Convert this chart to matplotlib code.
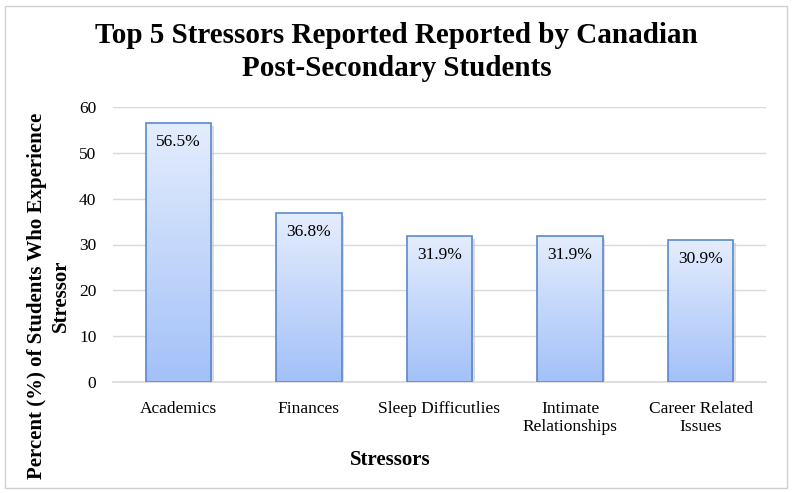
import numpy as np
import matplotlib
matplotlib.use('Agg')
import matplotlib.pyplot as plt
from matplotlib.patches import Rectangle
from matplotlib.colors import LinearSegmentedColormap

categories = ['Academics', 'Finances', 'Sleep Difficutlies',
              'Intimate\nRelationships', 'Career Related\nIssues']
values = [56.5, 36.8, 31.9, 31.9, 30.9]
labels = ['56.5%', '36.8%', '31.9%', '31.9%', '30.9%']
yticks = [0, 10, 20, 30, 40, 50, 60]

plt.rcParams['font.family'] = ['Liberation Serif', 'DejaVu Serif']

fig = plt.figure(figsize=(7.93, 4.93), dpi=100)
ax = fig.add_axes([113 / 793, 1 - 382 / 493, 653 / 793, 275 / 493])

grad = LinearSegmentedColormap.from_list('g', ['#a3c1f8', '#e4edfd'])
x = np.arange(len(values))
bars = ax.bar(x, values, width=0.5, facecolor='none', edgecolor='#5a89cc',
              linewidth=1.2, zorder=3)
for b, v, lab in zip(bars, values, labels):
    x0 = b.get_x()
    w = b.get_width()
    im = ax.imshow(np.linspace(0, 1, 100).reshape(-1, 1), cmap=grad,
                   origin='lower', aspect='auto',
                   extent=[x0, x0 + w, 0, v], zorder=2)
    im.set_clip_path(b)
    # soft shadow
    ax.add_patch(Rectangle((x0 + 0.02, -0.6), w, v, facecolor='#bbbbbb',
                           edgecolor='none', alpha=0.5, zorder=1))
    ax.text(b.get_x() + w / 2, v - 2.4, lab, ha='center', va='top',
            fontsize=12.5, zorder=4)

ax.set_xlim(-0.5, 4.5)
ax.set_ylim(0, 60)
ax.set_yticks(yticks)
ax.yaxis.grid(True, color='#d9d9d9', linewidth=1)
ax.set_axisbelow(True)
for s in ['top', 'right', 'left']:
    ax.spines[s].set_visible(False)
ax.spines['bottom'].set_color('#d9d9d9')
ax.spines['bottom'].set_linewidth(1.2)
ax.tick_params(length=0, labelsize=12.5, pad=12)
ax.tick_params(axis='x', pad=14)
ax.set_xticks(x)
ax.set_xticklabels(categories, linespacing=1.1)

fig.text(390 / 793, 1 - 460 / 493, 'Stressors', ha='center', va='center',
         fontsize=15, fontweight='bold')
fig.text(49 / 793, 1 - 296 / 493,
         'Percent (%) of Students Who Experience\nStressor', ha='center',
         va='center', rotation=90, fontsize=15, fontweight='bold',
         linespacing=1.3)

fig.text(0.5, 1 - 52 / 493,
         'Top 5 Stressors Reported Reported by Canadian\nPost-Secondary Students',
         ha='center', va='center', fontsize=21, fontweight='bold',
         linespacing=1.25)

fig.patches.append(Rectangle((5 / 793, 5 / 493), 782 / 793, 482 / 493,
                             transform=fig.transFigure, fill=False,
                             edgecolor='#d0d0d0', linewidth=1))

fig.savefig('out.png', dpi=100)
